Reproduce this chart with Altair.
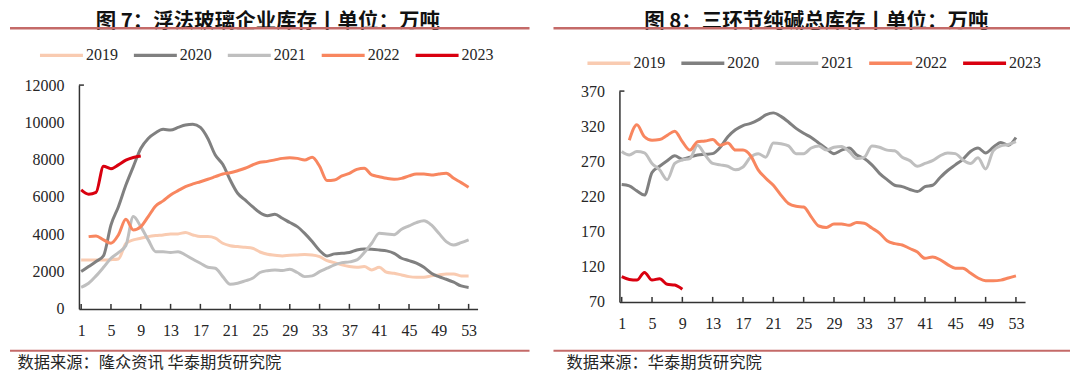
import altair as alt
import pandas as pd

weeks = list(range(1, 54))
years = ["2019", "2020", "2021", "2022", "2023"]
colors = ["#F9CBB1", "#808080", "#BFBFBF", "#F8865F", "#D9000F"]
x_ticks = list(range(1, 54, 4))

# 图7 浮法玻璃企业库存 (万吨)
glass_2019 = [2625, 2625, 2625, 2625, 2640, 2680, 3500, 3700, 3790, 3875, 3930, 3965, 4020, 4020,
              4100, 3965, 3875, 3875, 3790, 3520, 3390, 3340, 3300, 3250, 3050, 2930, 2880, 2840,
              2875, 2890, 2910, 2890, 2800, 2590, 2480, 2360, 2270, 2230, 2270, 2090, 2230, 1965,
              1910, 1820, 1730, 1700, 1700, 1770, 1820, 1875, 1875, 1770, 1770]
glass_2020 = [2000, 2270, 2540, 2850, 4500, 5480, 6640, 7630, 8600, 9140, 9450, 9630, 9590, 9730,
              9860, 9900, 9730, 9140, 8250, 7750, 6910, 6200, 5840, 5480, 5160, 5000, 5070, 4860,
              4630, 4410, 4050, 3610, 3130, 2840, 2950, 2980, 3020, 3160, 3215, 3200, 3160, 3110,
              2980, 2715, 2590, 2450, 2230, 1910, 1730, 1590, 1430, 1230, 1150]
glass_2021 = [1160, 1375, 1770, 2230, 2715, 3020, 3400, 4950, 4410, 3700, 3070, 3070, 3020, 3070,
              2890, 2660, 2450, 2230, 2180, 1730, 1320, 1375, 1500, 1640, 1950, 2050, 2090, 2054,
              2125, 1950, 1730, 1770, 2000, 2180, 2360, 2480, 2520, 2625, 3020, 3520, 4050, 4020,
              3980, 4270, 4450, 4630, 4730, 4500, 4050, 3610, 3430, 3550, 3700]
glass_2022 = [None, 3875, 3910, 3700, 3520, 3965, 4800, 4230, 4410, 4950, 5520, 5790, 6110, 6340,
              6555, 6700, 6820, 6950, 7090, 7230, 7300, 7410, 7540, 7715, 7860, 7910, 7990, 8070,
              8110, 8070, 7980, 8130, 7650, 6880, 6910, 7130, 7270, 7480, 7540, 7180, 7090, 7000,
              6950, 7000, 7130, 7230, 7230, 7180, 7230, 7270, 7000, 6770, 6520]
glass_2023 = [6380, 6150, 6250, 7650, 7520, 7720, 7980, 8120, 8200]

# 图8 三环节纯碱总库存 (万吨)
soda_2019 = []
soda_2020 = [237, 235, 228, 222, 254, 263, 271, 278, 273, 276, 279, 280, 281, 290, 305, 315, 321,
             324, 329, 336, 339, 334, 326, 317, 310, 304, 296, 288, 281, 286, 289, 279, 274, 265,
             253, 244, 236, 234, 230, 227, 234, 236, 247, 257, 265, 273, 284, 289, 282, 290, 297,
             293, 304]
soda_2021 = [284, 279, 284, 282, 267, 258, 244, 267, 272, 274, 293, 279, 267, 265, 263, 258, 262,
             276, 281, 276, 296, 295, 292, 281, 281, 289, 292, 286, 290, 291, 284, 274, 276, 292,
             290, 286, 285, 276, 271, 263, 267, 271, 278, 282, 281, 272, 267, 275, 259, 285, 292,
             294, 298]
soda_2022 = [None, 300, 322, 305, 300, 301, 307, 313, 298, 286, 298, 299, 301, 293, 296, 286, 286,
             278, 258, 246, 236, 222, 210, 206, 205, 191, 178, 176, 181, 181, 179, 183, 182, 175,
             168, 157, 153, 151, 146, 141, 132, 134, 130, 123, 118, 118, 111, 104, 100, 100, 101,
             104, 107]
soda_2023 = [106, 102, 101, 112, 101, 103, 95, 94, 88]

glass_y_ticks = list(range(0, 12001, 2000))
soda_y_ticks = list(range(70, 371, 50))

title_left = "图 7：浮法玻璃企业库存丨单位：万吨"
title_right = "图 8：三环节纯碱总库存丨单位：万吨"
source_left = "数据来源：隆众资讯 华泰期货研究院"
source_right = "数据来源：华泰期货研究院"

NUM_FONT = "Liberation Serif"
CJK_FONT = "Noto Sans CJK SC"
RULE_RED = "#C46A68"
H = 224


def long_df(series):
    rows = []
    for yr, vals in zip(years, series):
        for w, v in zip(weeks, vals):
            if v is not None:
                rows.append({"week": w, "year": yr, "value": v})
    return pd.DataFrame(rows)


def one(text=""):
    return pd.DataFrame({"t": [text]})


def panel(df, y_ticks, y_range, axis_y, width, title_text, title_x, line_x0, line_x1,
          legend_x, legend_y, source_text, source_x):
    xs = alt.Scale(domain=[0.7, 54.2], nice=False, zero=False)
    if y_range:
        ys = alt.Scale(domain=[y_ticks[0], y_ticks[-1]], nice=False, zero=False, range=y_range)
    else:
        ys = alt.Scale(domain=[y_ticks[0], y_ticks[-1]], nice=False, zero=False)
    x_axis = alt.Axis(values=x_ticks, title=None, grid=False, ticks=False, labelPadding=13.5,
                      labelFontSize=16, labelFont=NUM_FONT, labelColor="#262626",
                      domainColor="#333333", domainWidth=1.5, labelFlush=False,
                      labelOverlap=False, offset=axis_y - H, format="d")
    y_axis = alt.Axis(values=y_ticks, title=None, grid=False, ticks=False, labelPadding=15,
                      labelFontSize=16, labelFont=NUM_FONT, labelColor="#262626",
                      domainColor="#333333", domainWidth=1.5, labelFlush=False,
                      labelOverlap=False, format="d")
    x_enc = alt.X("week:Q", scale=xs, axis=x_axis)
    legend = alt.Legend(orient="none", legendX=legend_x, legendY=legend_y, direction="horizontal",
                        columns=5, symbolType="stroke", symbolSize=1849, symbolStrokeWidth=3.5,
                        labelFont=NUM_FONT, labelFontSize=16, labelColor="#262626",
                        labelOffset=1, columnPadding=9, padding=0, symbolOpacity=1)
    lines = alt.Chart(df).mark_line(strokeWidth=3, interpolate="monotone", strokeJoin="round").encode(
        x=x_enc,
        y=alt.Y("value:Q", scale=ys, axis=y_axis),
        color=alt.Color("year:N", title=None, scale=alt.Scale(domain=years, range=colors),
                        legend=legend),
    )
    ticks = alt.Chart(pd.DataFrame({"week": x_ticks})).mark_rule(
        color="#333333", strokeWidth=1.5).encode(
        x=x_enc, y=alt.value(axis_y - 5), y2=alt.value(axis_y))
    top_stub = alt.Chart(pd.DataFrame({"value": [y_ticks[-1]]})).mark_rule(
        color="#333333", strokeWidth=1.5).encode(
        y=alt.Y("value:Q", scale=ys, axis=y_axis), x=alt.value(0), x2=alt.value(5))
    anchor = alt.Chart(one()).mark_rule(color="#FFFFFF", strokeWidth=0.5).encode(
        x=alt.value(0), x2=alt.value(20), y=alt.value(-76.75))
    title = alt.Chart(one(title_text)).mark_text(
        font=CJK_FONT, fontSize=20.5, fontWeight="bold", color="#111111", baseline="middle",
        align="center").encode(text="t:N", x=alt.value(title_x), y=alt.value(-63))
    underline = alt.Chart(one()).mark_rule(color=RULE_RED, strokeWidth=2.5).encode(
        x=alt.value(line_x0), x2=alt.value(line_x1), y=alt.value(-57))
    footline = alt.Chart(one()).mark_rule(color=RULE_RED, strokeWidth=2).encode(
        x=alt.value(line_x0), x2=alt.value(line_x1), y=alt.value(266))
    source = alt.Chart(one(source_text)).mark_text(
        font=CJK_FONT, fontSize=16.3, color="#262626", baseline="middle", align="left").encode(
        text="t:N", x=alt.value(source_x), y=alt.value(278))
    return alt.layer(lines, ticks, top_stub, anchor, title, underline, footline, source).properties(
        width=width, height=H)


left = panel(long_df([glass_2019, glass_2020, glass_2021, glass_2022, glass_2023]),
             glass_y_ticks, None, H, 399, title_left, 189, -69, 451, -41, -53.5,
             source_left, -61.5)
right = panel(long_df([soda_2019, soda_2020, soda_2021, soda_2022, soda_2023]),
              soda_y_ticks, [217, 6], 217, 406, title_right, 197, -66, 451, -34, -45.5,
              source_right, -53)

chart = alt.hconcat(left, right, spacing=142, bounds="flush").resolve_scale(
    x="independent", y="independent", color="independent").resolve_legend(
    color="independent").configure_view(stroke=None).properties(padding=0)

chart.save("out.html", embed_options={"renderer": "svg", "actions": False})
